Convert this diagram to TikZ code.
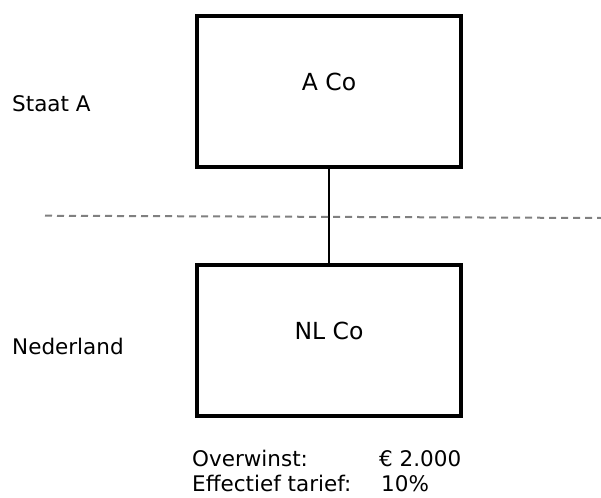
\documentclass[tikz,border=0pt]{standalone}
\usepackage{fontspec}
\setmainfont{DejaVu Sans}
\begin{document}
\begin{tikzpicture}[x=1pt,y=-1pt,
  entity/.style={draw=black,line width=4pt,minimum width=264pt,minimum height=151pt,inner sep=0pt},
  lbl/.style={inner sep=0pt,font=\fontsize{21.5}{26}\selectfont},
  boxlbl/.style={inner sep=0pt,anchor=base,font=\fontsize{23.5}{28}\selectfont},
  border/.style={draw=gray,line width=2pt,dash pattern=on 7pt off 5pt}]
  \useasboundingbox (0,0) rectangle (601,497);
  % entities
  \node[entity] (aco) at (329,91.5) {};
  \node[entity] (nlco) at (329,340.5) {};
  \node[boxlbl] (acot) at (329,90.5) {A Co};
  \node[boxlbl] (nlcot) at (329,339) {NL Co};
  % ownership link
  \draw[line width=1.3pt] (aco.south) -- (nlco.north);
  % national border
  \coordinate (bl) at (45,215.7);
  \coordinate (br) at (601,218);
  \draw[border] (bl) -- (br);
  % jurisdictions
  \node[lbl,anchor=base west] (staat) at (12,112) {Staat A};
  \node[lbl,anchor=base west] (nl) at (12,354) {Nederland};
  % figures
  \node[lbl,anchor=base west] (ow) at (192,466) {Overwinst:};
  \node[lbl,anchor=base west] (owv) at (379,466) {€ 2.000};
  \node[lbl,anchor=base west] (et) at (192,491) {Effectief tarief:};
  \node[lbl,anchor=base west] (etv) at (381,491) {10\%};
\end{tikzpicture}
\end{document}
